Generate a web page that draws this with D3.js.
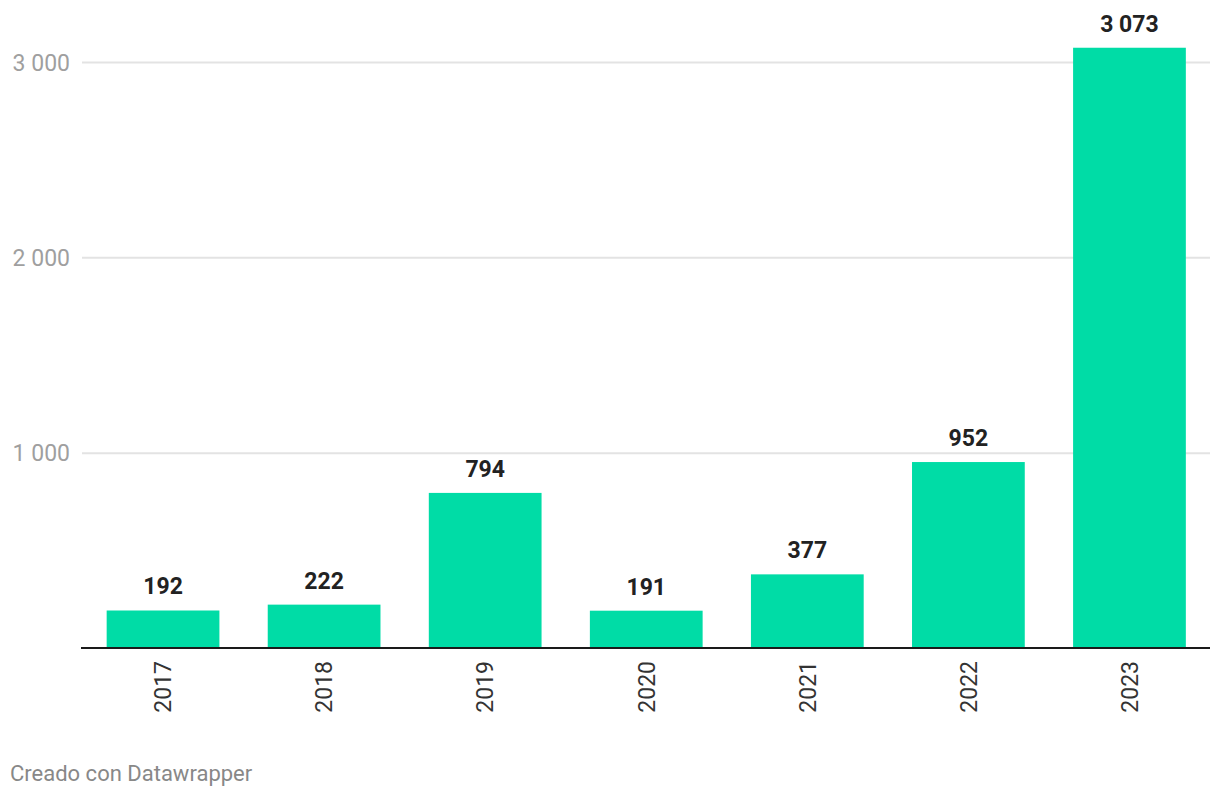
<!DOCTYPE html>
<html>
<head>
<meta charset="utf-8">
<script src="https://cdn.jsdelivr.net/npm/d3@7"></script>
<style>
  html, body { margin: 0; padding: 0; background: #fff; }
  svg { display: block; font-family: Roboto, "Noto Sans", sans-serif; }
</style>
</head>
<body>
<svg id="chart" width="1220" height="798"></svg>
<script>
const years = ["2017", "2018", "2019", "2020", "2021", "2022", "2023"];
const values = [192, 222, 794, 191, 377, 952, 3073];
const yTicks = [1000, 2000, 3000];
const footer = "Creado con Datawrapper";

const svg = d3.select("#chart");
const fmt = v => d3.format(",")(v).replace(/,/g, " ");

const x = d3.scaleBand().domain(years).range([82.5, 1210]).paddingInner(0.3).paddingOuter(0.15);
const y = d3.scaleLinear().domain([0, 3000]).range([648, 62]);

// gridlines + y labels
const yAxis = d3.axisLeft(y).tickValues(yTicks).tickSize(0).tickFormat(fmt);
const yG = svg.append("g").attr("transform", "translate(82,0)").call(yAxis);
yG.select(".domain").remove();
yG.selectAll(".tick line").attr("x2", 1210 - 82).attr("stroke", "#e3e3e3").attr("stroke-width", 2);
yG.selectAll(".tick text").attr("x", -12).attr("dy", "0.36em")
  .attr("font-size", 23).attr("fill", "#9f9f9f").attr("font-family", "Roboto");

// bars
svg.append("g").selectAll("rect").data(years).join("rect")
  .attr("x", d => x(d))
  .attr("width", x.bandwidth())
  .attr("y", (d, i) => y(values[i]))
  .attr("height", (d, i) => y(0) - y(values[i]))
  .attr("fill", "#00dca6");

// value labels
svg.append("g").selectAll("text").data(years).join("text")
  .attr("x", d => x(d) + x.bandwidth() / 2)
  .attr("y", (d, i) => y(values[i]) - 16)
  .attr("text-anchor", "middle")
  .attr("font-size", 23).attr("font-weight", 700).attr("fill", "#222")
  .text((d, i) => fmt(values[i]));

// x axis
const xAxis = d3.axisBottom(x).tickSize(0);
const xG = svg.append("g").attr("transform", "translate(0,648)").call(xAxis);
xG.select(".domain").attr("d", "M81,0H1210").attr("stroke", "#1a1a1a").attr("stroke-width", 2);
xG.selectAll(".tick text")
  .attr("transform", "rotate(-90)")
  .attr("x", -13).attr("y", 0).attr("dy", "0.36em")
  .attr("text-anchor", "end")
  .attr("font-size", 23).attr("fill", "#333").attr("font-family", "Roboto");

// footer
svg.append("text").attr("x", 10).attr("y", 781)
  .attr("font-size", 22).attr("fill", "#888").text(footer);
</script>
</body>
</html>
